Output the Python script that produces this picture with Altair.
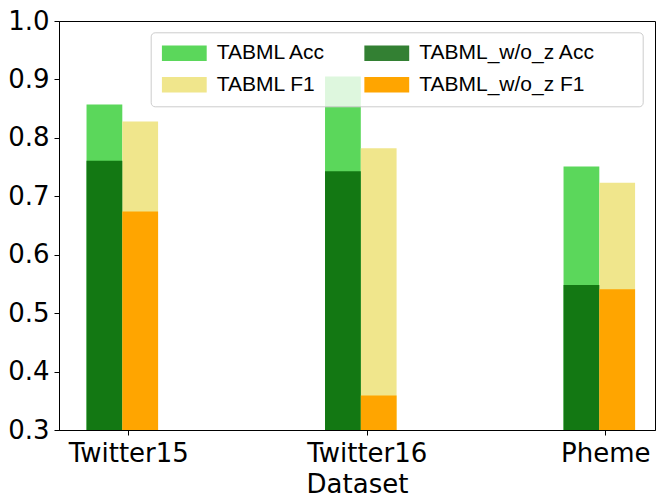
import json
import altair as alt
import pandas as pd

# ---- data ----
datasets = ["Twitter15", "Twitter16", "Pheme"]
tabml_acc = [0.857, 0.905, 0.751]
wo_z_acc = [0.761, 0.743, 0.548]
tabml_f1 = [0.828, 0.782, 0.723]
wo_z_f1 = [0.674, 0.359, 0.541]

series_names = ["TABML Acc", "TABML_w/o_z Acc", "TABML F1", "TABML_w/o_z F1"]
bar_colors = ["#5bd75b", "#137813", "#f0e68c", "#ffa500"]      # as drawn on the bars
legend_colors = ["#5bd75b", "#338033", "#f0e68c", "#ffa500"]   # as drawn in the legend

BAR_W = 0.15
TICK_OFF = 0.025

# draw order: TABML bars first, the w/o_z bars on top of them
layers = [
    ("TABML Acc", tabml_acc, -1),
    ("TABML F1", tabml_f1, 0),
    ("TABML_w/o_z Acc", wo_z_acc, -1),
    ("TABML_w/o_z F1", wo_z_f1, 0),
]
rows = []
for name, vals, side in layers:
    for i, (d, v) in enumerate(zip(datasets, vals)):
        rows.append(dict(series=name, dataset=d, value=v,
                         x0=i + side * BAR_W, x1=i + (side + 1) * BAR_W))
df = pd.DataFrame(rows)

label_expr = json.dumps(datasets) + "[round(datum.value - %g)]" % TICK_OFF

x_enc = alt.X("x0:Q",
              scale=alt.Scale(domain=[-0.2654, 2.2335], nice=False, zero=False),
              axis=alt.Axis(values=[i + TICK_OFF for i in range(len(datasets))],
                            labelExpr=label_expr, title="Dataset", grid=False,
                            labelPadding=5, titleY=41, titleBaseline="top"))
y_enc = alt.Y("value:Q",
              scale=alt.Scale(domain=[0.3, 1.0], nice=False, zero=False),
              axis=alt.Axis(values=[0.3, 0.4, 0.5, 0.6, 0.7, 0.8, 0.9, 1.0],
                            format=".1f", title=None, grid=False, labelPadding=5))

bars = alt.Chart(df).mark_bar(strokeWidth=0).encode(
    x=x_enc,
    x2="x1:Q",
    y=y_enc,
    y2=alt.datum(0.3),
    color=alt.Color("series:N",
                    scale=alt.Scale(domain=series_names, range=bar_colors),
                    legend=None),
)

legend = alt.Legend(
    title=" ",
    titleOrient="right",
    titlePadding=37,
    titleFont="Liberation Sans",
    titleFontSize=21,
    orient="none",
    direction="horizontal",
    legendX=91.7,
    legendY=11.3,
    columns=2,
    columnPadding=37.5,
    rowPadding=10.4,
    clipHeight=20,
    padding=11,
    values=series_names,
    fillColor="rgba(255,255,255,0.8)",
    strokeColor="#cccccc",
    cornerRadius=4,
    symbolType="M-1,-0.347L1,-0.347L1,0.347L-1,0.347Z",
    symbolSize=2025,
    symbolStrokeWidth=0,
    symbolOpacity=1,
    labelFont="Liberation Sans",
    labelFontSize=21,
    labelColor="black",
    labelOffset=10,
    labelLimit=400,
)

# zero-height bars that only carry the legend
legend_layer = alt.Chart(df).mark_bar(strokeWidth=0).encode(
    x=alt.X("x0:Q"),
    x2="x1:Q",
    y=alt.Y("value:Q"),
    y2=alt.datum(0.3),
    color=alt.Color("series:N",
                    scale=alt.Scale(domain=series_names, range=legend_colors),
                    legend=legend),
).transform_calculate(value="0.3")

chart = alt.layer(bars, legend_layer).resolve_scale(
    color="independent"
).properties(
    width=596,
    height=409,
    autosize=alt.AutoSizeParams(type="none"),
    padding={"left": 51, "top": 13, "right": 1, "bottom": 69},
).configure_view(
    stroke="black", strokeWidth=1
).configure_axis(
    domainColor="black", domainWidth=1,
    tickColor="black", tickSize=5, tickWidth=1,
    labelFont="DejaVu Sans", labelFontSize=26, labelColor="black",
    titleFont="DejaVu Sans", titleFontSize=26, titleFontWeight="normal",
    titleColor="black",
)

chart.save("out.html", embed_options={"renderer": "svg", "actions": False})
